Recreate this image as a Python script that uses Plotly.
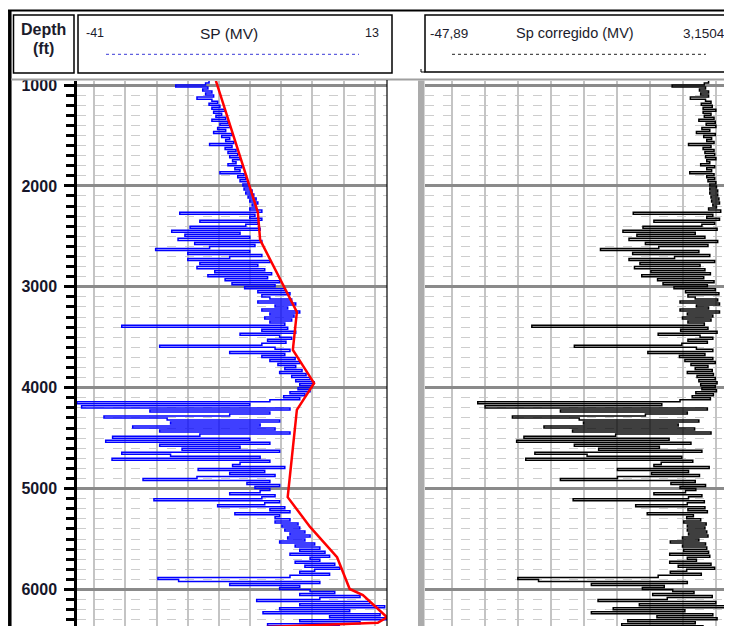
import plotly.graph_objects as go

# sampled depth of the SP log (ft), every 20 ft
depth = list(range(960, 6361, 20))

# SP (mV), blue curve
sp = [
    -18.0, -18.6,                           # 960
    -23.8, -18.2, -19.1, -17.5, -18.6,      # 1000
    -17.2, -20.1, -17.5, -16.5, -18.0,      # 1100
    -16.1, -17.5, -15.2, -17.2, -15.8,      # 1200
    -16.8, -15.1, -17.5, -14.7, -16.1,      # 1300
    -14.4, -16.5, -15.1, -17.2, -14.0,      # 1400
    -15.8, -14.4, -15.1, -13.7, -17.9,      # 1500
    -14.0, -15.2, -13.3, -14.7, -13.0,      # 1600
    -14.4, -12.6, -13.9, -13.3, -14.7,      # 1700
    -12.3, -13.5, -12.6, -16.1, -11.9,      # 1800
    -13.0, -11.6, -12.6, -11.2, -12.1,      # 1900
    -10.9, -11.9, -10.5, -11.6, -10.2,      # 2000
    -11.2, -9.8, -10.9, -9.5, -10.5,        # 2100
    -9.8, -10.9, -8.8, -23.1, -10.0,        # 2200
    -10.9, -8.8, -19.6, -9.5, -11.6,        # 2300
    -21.3, -9.1, -24.5, -12.6, -22.2,       # 2400
    -10.9, -23.4, -8.8, -20.5, -10.0,       # 2500
    -17.9, -27.3, -10.9, -21.7, -8.8,       # 2600
    -14.4, -21.7, -7.4, -19.6, -9.5,        # 2700
    -20.1, -8.3, -17.0, -7.1, -18.2,        # 2800
    -7.8, -15.2, -5.7, -14.0, -6.5,         # 2900
    -11.8, -4.8, -9.5, -3.9, -8.8,          # 3000
    -7.4, -3.6, -9.5, -2.9, -6.5,           # 3100
    -4.3, -8.8, -2.2, -7.4, -3.2,           # 3200
    -8.3, -3.6, -7.4, -4.8, -33.2,          # 3300
    -4.3, -8.8, -2.9, -12.6, -5.7,          # 3400
    -3.6, -7.8, -4.6, -8.8, -26.6,          # 3500
    -6.5, -3.9, -14.4, -4.8, -8.8,          # 3600
    -3.0, -7.4, -2.2, -6.0, -2.9,           # 3700
    -4.8, -1.8, -5.7, -1.1, -3.6,           # 3800
    -0.4, -2.9, 0.3, -2.2, -0.1,            # 3900
    -2.5, -0.4, -3.9, -1.3, -5.0,           # 4000
    -2.2, -7.4, -41.0, -10.9, -40.2,        # 4100
    -3.9, -28.3, -7.4, -14.4, -36.3,        # 4200
    -25.3, -5.7, -24.7, -9.1, -31.3,        # 4300
    -6.5, -26.6, -3.9, -19.6, -34.8,        # 4400
    -10.9, -36.0, -7.4, -26.6, -12.6,       # 4500
    -22.7, -5.7, -33.2, -24.7, -9.1,        # 4600
    -34.9, -7.4, -12.6, -13.9, -4.8,        # 4700
    -19.9, -8.3, -14.4, -6.5, -20.1,        # 4800
    -29.5, -7.4, -11.4, -5.7, -10.0,        # 4900
    -7.4, -9.1, -14.4, -6.5, -8.8,          # 5000
    -27.6, -5.7, -8.3, -16.5, -4.8,         # 5100
    -7.4, -3.9, -13.5, -5.7, -6.5,          # 5200
    -3.9, -6.5, -2.5, -5.3, -2.2,           # 5300
    -4.8, -1.3, -3.9, -0.4, -4.3,           # 5400
    -1.3, -5.7, 0.4, -3.0, 1.3,             # 5500
    -2.2, 2.2, -3.9, 3.0, -0.4,             # 5600
    1.3, -3.0, 3.9, -1.3, 4.8,              # 5700
    0.4, -2.2, 3.0, -3.9, -26.9,            # 5800
    -23.3, 1.3, -14.4, -2.2, -5.7,          # 5900
    -0.4, 3.9, -2.2, 8.3, 1.3,              # 6000
    -9.7, 10.0, -2.2, 12.6, -5.7,           # 6100
    6.5, -8.6, 11.8, 3.0, 13.0,             # 6200
    -2.2, 8.3, -7.8, 4.8,                   # 6300
]

# Sp corregido (mV), black curve
sp_corr = [
    -1.2, -1.9,                             # 960
    -7.2, -1.7, -2.7, -1.2, -2.5,           # 1000
    -1.2, -4.2, -1.7, -0.8, -2.4,           # 1100
    -0.6, -2.1, 0.0, -2.1, -0.8,            # 1200
    -1.9, -0.3, -2.8, -0.1, -1.6,           # 1300
    0.0, -2.3, -1.0, -3.2, -0.1,            # 1400
    -2.0, -0.7, -1.5, -0.3, -4.5,           # 1500
    -0.8, -2.1, -0.3, -1.8, -0.2,           # 1600
    -1.7, 0.0, -1.5, -1.0, -2.5,            # 1700
    -0.2, -1.5, -0.7, -4.3, -0.3,           # 1800
    -1.5, -0.2, -1.3, 0.0, -1.0,            # 1900
    0.1, -1.0, 0.3, -1.0, 0.3,              # 2000
    -0.8, 0.5, -0.7, 0.6, -0.5,             # 2100
    0.1, -1.2, 0.8, -13.6, -0.5,            # 2200
    -1.5, 0.6, -10.2, -0.2, -2.3,           # 2300
    -12.0, 0.2, -15.3, -3.4, -13.0,         # 2400
    -1.8, -14.3, 0.3, -11.6, -1.3,          # 2500
    -9.4, -19.0, -2.8, -13.7, -1.0,         # 2600
    -6.8, -14.3, -0.2, -12.5, -2.6,         # 2700
    -13.4, -1.8, -10.7, -0.9, -12.2,        # 2800
    -2.0, -9.6, -0.3, -8.7, -1.4,           # 2900
    -6.9, -0.1, -5.0, 0.5, -4.6,            # 3000
    -3.4, 0.3, -5.9, 0.6, -3.2,             # 3100
    -1.2, -5.9, 0.6, -4.7, -0.5,            # 3200
    -5.5, -0.8, -4.6, -1.9, -30.3,          # 3300
    -1.3, -5.8, 0.2, -9.5, -2.6,            # 3400
    -0.5, -4.6, -1.4, -5.6, -23.3,          # 3500
    -3.2, -0.5, -11.2, -1.8, -6.0,          # 3600
    -0.5, -5.1, -0.1, -4.1, -1.3,           # 3700
    -3.4, -0.6, -4.7, -0.4, -3.1,           # 3800
    -0.1, -2.8, 0.2, -2.5, -0.1,            # 3900
    -2.3, 0.1, -3.3, -0.4, -3.9,            # 4000
    -0.9, -5.9, -39.2, -8.9, -38.0,         # 4100
    -1.4, -25.6, -4.7, -11.6, -33.5,        # 4200
    -22.5, -2.8, -21.8, -6.2, -28.3,        # 4300
    -3.5, -23.6, -0.8, -16.5, -31.6,        # 4400
    -7.7, -32.8, -4.1, -23.3, -9.3,         # 4500
    -19.3, -2.3, -29.8, -21.2, -5.6,        # 4600
    -31.3, -3.8, -9.0, -10.2, -1.1,         # 4700
    -16.2, -4.5, -10.6, -2.7, -16.2,        # 4800
    -25.6, -3.4, -7.4, -1.7, -5.9,          # 4900
    -3.3, -5.0, -10.2, -2.3, -4.5,          # 5000
    -23.5, -1.9, -4.7, -13.2, -1.8,         # 5100
    -4.6, -1.4, -11.3, -3.7, -4.8,          # 5200
    -2.5, -5.3, -1.6, -4.7, -1.8,           # 5300
    -4.7, -1.5, -4.5, -1.3, -5.5,           # 5400
    -2.8, -7.5, -1.7, -5.5, -1.5,           # 5500
    -5.3, -1.2, -7.6, -1.0, -4.7,           # 5600
    -3.2, -7.6, -0.8, -6.2, -0.2,           # 5700
    -4.8, -7.5, -2.4, -9.5, -32.6,          # 5800
    -29.2, -4.7, -20.5, -8.5, -12.1,        # 5900
    -7.1, -3.6, -10.4, -0.6, -8.0,          # 6000
    -19.4, 0.0, -12.6, 1.8, -16.9,          # 6100
    -5.1, -20.5, -0.5, -9.7, 0.2,           # 6200
    -14.5, -3.4, -15.5, -2.0,               # 6300
]

# red trend line drawn over the SP curve
trend_depth = [960, 2260, 2535, 3250, 3625, 3955, 4220, 5085, 5380, 5680, 5995, 6055, 6275, 6330, 6372]
trend_sp = [-16.8, -9.5, -9.1, -2.7, -3.4, 0.3, -2.7, -4.3, -0.4, 4.3, 6.5, 8.8, 13.0, 11.4, -8.0]

assert len(depth) == len(sp) == len(sp_corr)

W, H = 732, 626
OFF = 8          # the page body adds an 8 px margin, so work in page pixels
TOP, BOT = 81, H + OFF


def px(x):
    return (x - OFF) / W


def py(y):
    return 1 - (y - OFF) / H


fig = go.Figure()
# log curves drawn as steps so each sample reads as a flat horizontal stroke
fig.add_trace(go.Scatter(x=sp, y=depth, mode='lines',
                         line=dict(color='#0000ff', width=1.5, shape='vh'), xaxis='x', yaxis='y'))
fig.add_trace(go.Scatter(x=trend_sp, y=trend_depth, mode='lines',
                         line=dict(color='#ff0000', width=2.5), xaxis='x', yaxis='y'))
fig.add_trace(go.Scatter(x=sp_corr, y=depth, mode='lines',
                         line=dict(color='#000000', width=1.5, shape='vh'), xaxis='x2', yaxis='y2'))

ydom = [0, py(TOP)]
yrange = [1000 + (BOT - 85) / 0.1009, 1000 - (85 - TOP) / 0.1009]
minor_grid = dict(dtick=100, showgrid=True, gridcolor='#cdcdcd', gridwidth=1, griddash='dash')

fig.update_layout(
    width=W, height=H,
    margin=dict(l=0, r=0, t=0, b=0),
    paper_bgcolor='white', plot_bgcolor='white',
    showlegend=False,
    xaxis=dict(domain=[px(77), px(387)], range=[-41, 13], anchor='y',
               showticklabels=False, ticks='', tick0=0, dtick=5.43,
               showgrid=True, gridcolor='#c4c4c4', gridwidth=2,
               zeroline=False, showline=False, automargin=False),
    xaxis2=dict(domain=[px(425), px(735)], range=[-47.89, 3.1504], anchor='y2',
                showticklabels=False, ticks='', tick0=0, dtick=5.43,
                showgrid=True, gridcolor='#c4c4c4', gridwidth=2,
                zeroline=False, showline=False, automargin=False),
    yaxis=dict(domain=ydom, range=yrange, anchor='x', side='left',
               showline=True, linecolor='black', linewidth=2.5,
               ticks='outside', ticklen=10, tickwidth=2.5, tickcolor='black',
               tick0=0, dtick=1000, ticklabelstandoff=4,
               tickfont=dict(family='Liberation Sans', size=16, color='#16162a', weight='bold'),
               showgrid=True, gridcolor='#8a8a8a', gridwidth=3,
               minor=dict(ticks='outside', ticklen=8, tickwidth=2.5, tickcolor='black', **minor_grid),
               zeroline=False, automargin=False),
    yaxis2=dict(domain=ydom, matches='y', anchor='x2',
                showticklabels=False, ticks='', showline=False,
                tick0=0, dtick=1000,
                showgrid=True, gridcolor='#8a8a8a', gridwidth=3,
                minor=dict(ticks='', **minor_grid),
                zeroline=False, automargin=False),
)

P = dict(xref='paper', yref='paper', layer='above')
shapes = [
    # cover the top of the first depth label like the header does
    dict(type='rect', x0=px(12), x1=px(76), y0=py(79), y1=py(73), fillcolor='white', line_width=0, **P),
    # outer frame
    dict(type='line', x0=px(8), x1=px(W + 10), y0=py(10.5), y1=py(10.5), line=dict(color='black', width=2), **P),
    dict(type='line', x0=px(9.8), x1=px(9.8), y0=py(10), y1=py(H + 10), line=dict(color='black', width=3.5), **P),
    dict(type='line', x0=px(11), x1=px(W + 10), y0=py(79.5), y1=py(79.5), line=dict(color='#a0a0a0', width=2), **P),
    # header boxes
    dict(type='rect', x0=px(13.5), x1=px(74), y0=py(73), y1=py(15), line=dict(color='black', width=1.5), **P),
    dict(type='rect', x0=px(78), x1=px(392), y0=py(73), y1=py(15), line=dict(color='black', width=1.5), **P),
    dict(type='rect', x0=px(425), x1=px(W + 20), y0=py(72), y1=py(15), line=dict(color='black', width=1.5), **P),
    dict(type='path', path=f'M {px(421)} {py(69)} L {px(421)} {py(72)} L {px(425)} {py(72)}',
         line=dict(color='black', width=1), **P),
    # curve keys in the headers
    dict(type='line', x0=px(106), x1=px(359), y0=py(54.3), y1=py(54.3), line=dict(color='#3a3ad8', width=1, dash='dot'), **P),
    dict(type='line', x0=px(452), x1=px(706), y0=py(54.3), y1=py(54.3), line=dict(color='#222222', width=1, dash='dot'), **P),
    # track borders
    dict(type='line', x0=px(387), x1=px(387), y0=py(80), y1=py(H + 10), line=dict(color='black', width=1.2), **P),
    dict(type='rect', x0=px(418), x1=px(424.5), y0=py(80.5), y1=py(H + 10), fillcolor='#ababab', line_width=0, **P),
]
fig.update_layout(shapes=shapes)

hdr_font = dict(family='Liberation Sans', color='#1c1c2c')
notes = [
    ('Depth', 43.5, 29.5, 16, 'bold', 'center'),
    ('(ft)', 43.5, 48.5, 16, 'bold', 'center'),
    ('-41', 84, 33, 12.5, 'normal', 'left'),
    ('SP (MV)', 229, 33, 15.5, 'normal', 'center'),
    ('13', 381, 33, 12.5, 'normal', 'right'),
    ('-47,89', 428, 33, 13.5, 'normal', 'left'),
    ('Sp corregido (MV)', 575, 33, 14.5, 'normal', 'center'),
    ('3,1504', 727, 33, 13.5, 'normal', 'right'),
]
for text, x, y, size, weight, align in notes:
    fig.add_annotation(text=text, x=px(x), y=py(y), xref='paper', yref='paper',
                       xanchor=align, yanchor='middle', showarrow=False,
                       font=dict(size=size, weight=weight, **hdr_font))

fig.write_html("out.html")
